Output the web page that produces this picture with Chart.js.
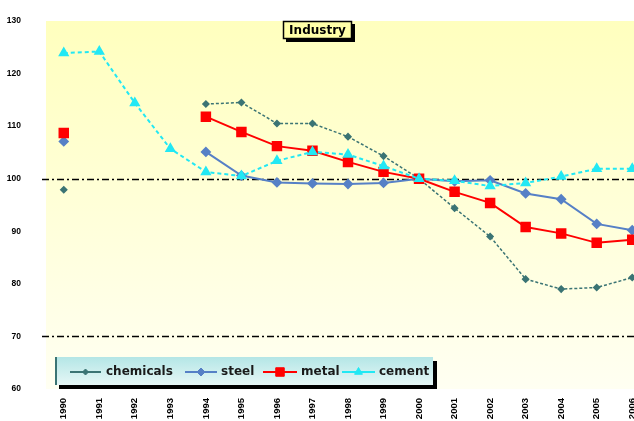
<!DOCTYPE html>
<html>
<head>
<meta charset="utf-8">
<script src="https://cdn.jsdelivr.net/npm/chart.js@4/dist/chart.umd.min.js"></script>
<style>
  html, body { margin: 0; padding: 0; background: #ffffff; overflow: hidden; width: 634px; height: 421px; }
  canvas { display: block; }
</style>
</head>
<body>
<canvas id="c" width="658" height="421"></canvas>
<script>
// Industry index, 2000 = 100
const years = ['1990','1991','1992','1993','1994','1995','1996','1997','1998',
               '1999','2000','2001','2002','2003','2004','2005','2006'];
const chemicals = [97.9, null, null, null, 114.2, 114.5, 110.5, 110.5, 108.0,
                   104.3, 100.0, 94.4, 89.0, 80.9, 79.0, 79.3, 81.2];
const steel     = [107.1, null, null, null, 105.1, 100.6, 99.3, 99.1, 99.0,
                   99.2, 100.0, 99.5, 99.7, 97.2, 96.1, 91.4, 90.2];
const metal     = [108.7, null, null, null, 111.8, 108.9, 106.2, 105.3, 103.2,
                   101.3, 100.0, 97.5, 95.4, 90.8, 89.6, 87.8, 88.4];
const cement    = [123.9, 124.2, 114.4, 105.7, 101.3, 100.5, 103.4, 105.1, 104.6,
                   102.4, 100.0, 99.6, 98.6, 99.2, 100.4, 101.9, 101.9];
const yTicks = { min: 60, max: 130, step: 10 };
const refLines = [100, 70];
const titleText = 'Industry';

const COL = {
  chemicals: '#3b7474',
  steel: '#5680c6',
  metal: '#ff0000',
  cement: '#22e8f4'
};

// plot background, dash-dot reference lines, title box and legend box
const decor = {
  id: 'decor',
  beforeDatasetsDraw(chart) {
    const { ctx, chartArea: a, scales } = chart;
    ctx.save();
    const g = ctx.createLinearGradient(0, a.top, 0, a.bottom);
    g.addColorStop(0, '#ffffbe');
    g.addColorStop(1, '#fffff2');
    ctx.fillStyle = g;
    ctx.fillRect(a.left, a.top, a.right - a.left, a.bottom - a.top);

    ctx.strokeStyle = '#000000';
    ctx.lineWidth = 1.5;
    ctx.setLineDash([7, 3, 2, 3]);
    refLines.forEach(v => {
      const y = Math.round(scales.y.getPixelForValue(v)) + 0.5;
      ctx.beginPath();
      ctx.moveTo(a.left - 4, y);
      ctx.lineTo(a.right, y);
      ctx.stroke();
    });
    ctx.restore();
  },
  afterDraw(chart) {
    const { ctx } = chart;
    ctx.save();
    // title box
    const tx = 283, ty = 21, tw = 69, th = 18;
    ctx.fillStyle = '#000';
    ctx.fillRect(tx + 3, ty + 3, tw, th);
    ctx.fillStyle = '#ffffa8';
    ctx.fillRect(tx, ty, tw, th);
    ctx.strokeStyle = '#000';
    ctx.lineWidth = 1.5;
    ctx.strokeRect(tx + 0.5, ty + 0.5, tw - 1, th - 1);
    ctx.fillStyle = '#000';
    ctx.font = 'bold 12px "DejaVu Sans"';
    ctx.textAlign = 'center';
    ctx.textBaseline = 'middle';
    ctx.fillText(titleText, tx + tw / 2, ty + th / 2 + 0.5);

    // legend box
    const lx = 55, ly = 357, lw = 378, lh = 28;
    ctx.fillStyle = '#000';
    ctx.fillRect(lx + 4, ly + 4, lw, lh);
    const lg = ctx.createLinearGradient(0, ly, 0, ly + lh);
    lg.addColorStop(0, '#b4e6e6');
    lg.addColorStop(1, '#e6f7f6');
    ctx.fillStyle = lg;
    ctx.fillRect(lx, ly, lw, lh);
    ctx.fillStyle = '#3b7474';
    ctx.fillRect(lx, ly, 2, lh);

    const cy = ly + lh / 2 + 1;
    const items = [
      { ds: 0, x0: 70, x1: 101, tx: 106 },
      { ds: 1, x0: 185, x1: 217, tx: 221 },
      { ds: 2, x0: 263, x1: 297, tx: 301 },
      { ds: 3, x0: 342, x1: 375, tx: 379 }
    ];
    items.forEach(it => {
      const d = chart.data.datasets[it.ds];
      ctx.strokeStyle = d.borderColor;
      ctx.fillStyle = d.backgroundColor;
      ctx.lineWidth = 2;
      ctx.setLineDash([]);
      ctx.beginPath();
      ctx.moveTo(it.x0, cy);
      ctx.lineTo(it.x1, cy);
      ctx.stroke();
      ctx.lineWidth = 1;
      Chart.helpers.drawPoint(ctx, {
        pointStyle: d.pointStyle,
        radius: d.pointRadius,
        borderWidth: 1
      }, (it.x0 + it.x1) / 2, cy);
      ctx.fillStyle = '#1a1a1a';
      ctx.font = 'bold 12px "DejaVu Sans"';
      ctx.textAlign = 'left';
      ctx.textBaseline = 'middle';
      ctx.fillText(d.label, it.tx, cy);
    });
    ctx.restore();
  }
};

function series(label, data, color, style, radius, dash, width, order) {
  return {
    label, data, order,
    borderColor: color,
    backgroundColor: color,
    pointBackgroundColor: color,
    pointBorderColor: color,
    pointStyle: style,
    pointRadius: radius,
    pointHoverRadius: radius,
    borderWidth: width,
    borderDash: dash,
    tension: 0,
    spanGaps: false
  };
}

new Chart(document.getElementById('c'), {
  type: 'line',
  data: {
    labels: years,
    datasets: [
      series('chemicals', chemicals, COL.chemicals, 'rectRot', 3, [3, 2], 1.5, 3),
      series('steel', steel, COL.steel, 'rectRot', 4, [], 2, 2),
      series('metal', metal, COL.metal, 'rect', 6, [], 2, 1),
      series('cement', cement, COL.cement, 'triangle', 4.5, [4, 3], 2, 0)
    ]
  },
  options: {
    responsive: false,
    devicePixelRatio: 1,
    animation: false,
    layout: { padding: { top: 21, right: 0, left: 0, bottom: 0 } },
    plugins: {
      legend: { display: false },
      title: { display: false },
      tooltip: { enabled: false }
    },
    scales: {
      x: {
        offset: true,
        grid: { display: false, drawTicks: false },
        border: { display: false },
        ticks: {
          minRotation: 90, maxRotation: 90, autoSkip: false,
          padding: 9, color: '#000',
          font: { family: 'Liberation Sans', size: 9.5, weight: 'bold' }
        },
        afterFit(s) { s.height = 32; s.paddingLeft = 0; s.paddingRight = 0; }
      },
      y: {
        min: yTicks.min, max: yTicks.max,
        grid: { display: false, drawTicks: false },
        border: { display: false },
        ticks: {
          stepSize: yTicks.step, padding: 25, color: '#000',
          font: { family: 'Liberation Sans', size: 8.5, weight: 'bold' }
        },
        afterFit(s) { s.width = 46; s.paddingTop = 0; s.paddingBottom = 0; }
      }
    }
  },
  plugins: [decor]
});
</script>
</body>
</html>
